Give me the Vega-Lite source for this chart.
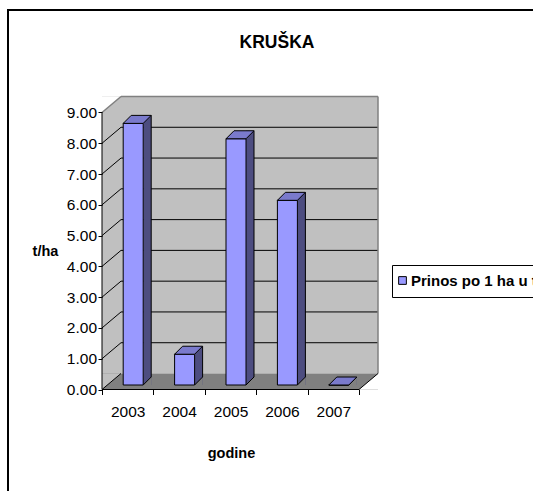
{
  "$schema": "https://vega.github.io/schema/vega-lite/v6.json",
  "width": 526,
  "height": 482,
  "autosize": {"type": "none"},
  "padding": {"left": 8, "top": 10, "right": -1, "bottom": -1},
  "background": "white",
  "datasets": {
    "bars": [
      {"year": "2003", "value": 8.5},
      {"year": "2004", "value": 1.0},
      {"year": "2005", "value": 8.0},
      {"year": "2006", "value": 6.0},
      {"year": "2007", "value": 0}
    ],
    "grid": [{"v": 1}, {"v": 2}, {"v": 3}, {"v": 4}, {"v": 5}, {"v": 6}, {"v": 7}, {"v": 8}],
    "one": [{}]
  },
  "title": {
    "text": "KRUŠKA",
    "font": "'Liberation Sans', Arial, sans-serif",
    "fontSize": 17.5,
    "fontWeight": "bold",
    "color": "black",
    "anchor": "middle",
    "offset": -50,
    "baseline": "middle",
    "dx": 6
  },
  "layer": [
    {
      "data": {"name": "one"},
      "mark": {"type": "rect", "fill": "#C0C0C0", "xOffset": 19, "x2Offset": 19, "yOffset": -16, "y2Offset": -16},
      "encoding": {
        "x": {"datum": "2003", "bandPosition": 0, "type": "nominal",
          "scale": {"type": "band", "domain": ["2003", "2004", "2005", "2006", "2007"], "paddingInner": 0, "paddingOuter": 0, "range": [94, 351]},
          "axis": {
            "orient": "bottom", "offset": -102.5, "domain": false, "grid": false, "zindex": 1,
            "tickBand": "extent", "tickSize": 5, "tickColor": "black", "tickWidth": 1,
            "labelAngle": 0, "labelPadding": 10, "labelColor": "black",
            "labelFont": "'Liberation Sans', Arial, sans-serif",
            "labelFontSize": 15.5,
            "title": "godine", "titleFontWeight": "bold", "titleColor": "black",
            "titleFont": "'Liberation Sans', Arial, sans-serif",
            "titleFontSize": 14.5, "titleX": 223, "titleY": 63.5, "titleBaseline": "middle", "titleAlign": "center"
          }
        },
        "x2": {"datum": "2007", "bandPosition": 1},
        "y": {"datum": 9, "type": "quantitative",
          "scale": {"domain": [-3.33, 12.33], "nice": false, "zero": false},
          "axis": {
            "orient": "left", "offset": -94, "values": [0, 1, 2, 3, 4, 5, 6, 7, 8, 9], "format": ".2f",
            "domain": false, "grid": false, "zindex": 1, "tickSize": 4, "tickColor": "black", "tickWidth": 1,
            "labelPadding": 1.5, "labelColor": "black",
            "labelFont": "'Liberation Sans', Arial, sans-serif",
            "labelFontSize": 15.5,
            "title": "t/ha", "titleAngle": 0, "titleFontWeight": "bold", "titleColor": "black",
            "titleFont": "'Liberation Sans', Arial, sans-serif",
            "titleFontSize": 14.5, "titleX": -57, "titleY": 241, "titleBaseline": "middle", "titleAlign": "center"
          }
        },
        "y2": {"datum": 0}
      }
    },
    {
      "data": {"name": "one"},
      "mark": {"type": "rect", "fill": "#C0C0C0", "x2Offset": 19, "yOffset": -16},
      "encoding": {
        "x": {"datum": "2003", "bandPosition": 0},
        "x2": {"datum": "2003", "bandPosition": 0},
        "y": {"datum": 9},
        "y2": {"datum": 0}
      }
    },
    {
      "data": {"name": "one"},
      "mark": {"type": "point", "shape": "M0,0 L0,-16 L19,-16 Z", "size": 4, "filled": true, "fill": "white", "opacity": 1, "strokeWidth": 0},
      "encoding": {
        "x": {"datum": "2003", "bandPosition": 0},
        "y": {"datum": 9}
      }
    },
    {
      "data": {"name": "one"},
      "mark": {"type": "rect", "fill": "#808080", "x2Offset": 19, "y2Offset": -16},
      "encoding": {
        "x": {"datum": "2003", "bandPosition": 0},
        "x2": {"datum": "2007", "bandPosition": 1},
        "y": {"datum": 0},
        "y2": {"datum": 0}
      }
    },
    {
      "data": {"name": "one"},
      "mark": {"type": "point", "shape": "M0,0 L0,-16 L19,-16 Z", "size": 4, "filled": true, "fill": "#C0C0C0", "opacity": 1, "strokeWidth": 0},
      "encoding": {
        "x": {"datum": "2003", "bandPosition": 0},
        "y": {"datum": 0}
      }
    },
    {
      "data": {"name": "one"},
      "mark": {"type": "point", "shape": "M0,0 L19,0 L19,-16 Z", "size": 4, "filled": true, "fill": "white", "opacity": 1, "strokeWidth": 0},
      "encoding": {
        "x": {"datum": "2007", "bandPosition": 1},
        "y": {"datum": 0}
      }
    },
    {
      "data": {"name": "grid"},
      "mark": {"type": "rule", "color": "black", "strokeWidth": 1, "xOffset": 19, "x2Offset": 19, "yOffset": -16},
      "encoding": {
        "x": {"datum": "2003", "bandPosition": 0},
        "x2": {"datum": "2007", "bandPosition": 1},
        "y": {"field": "v", "type": "quantitative"}
      }
    },
    {
      "data": {"name": "grid"},
      "mark": {"type": "rule", "color": "black", "strokeWidth": 1, "x2Offset": 19, "y2Offset": -16},
      "encoding": {
        "x": {"datum": "2003", "bandPosition": 0},
        "x2": {"datum": "2003", "bandPosition": 0},
        "y": {"field": "v", "type": "quantitative"},
        "y2": {"field": "v"}
      }
    },
    {
      "data": {"name": "one"},
      "mark": {"type": "rule", "color": "#808080", "strokeWidth": 1.5, "xOffset": 19, "x2Offset": 19, "yOffset": -16},
      "encoding": {
        "x": {"datum": "2003", "bandPosition": 0},
        "x2": {"datum": "2007", "bandPosition": 1},
        "y": {"datum": 9}
      }
    },
    {
      "data": {"name": "one"},
      "mark": {"type": "rule", "color": "#808080", "strokeWidth": 1.5, "x2Offset": 19, "y2Offset": -16},
      "encoding": {
        "x": {"datum": "2003", "bandPosition": 0},
        "x2": {"datum": "2003", "bandPosition": 0},
        "y": {"datum": 9},
        "y2": {"datum": 9}
      }
    },
    {
      "data": {"name": "one"},
      "mark": {"type": "rule", "color": "#808080", "strokeWidth": 1.5, "xOffset": 19, "yOffset": -16, "y2Offset": -16},
      "encoding": {
        "x": {"datum": "2007", "bandPosition": 1},
        "y": {"datum": 9},
        "y2": {"datum": 0}
      }
    },
    {
      "data": {"name": "one"},
      "mark": {"type": "rule", "color": "black", "strokeWidth": 1},
      "encoding": {
        "x": {"datum": "2003", "bandPosition": 0},
        "y": {"datum": 0},
        "y2": {"datum": 9}
      }
    },
    {
      "data": {"name": "one"},
      "mark": {"type": "rule", "color": "black", "strokeWidth": 1},
      "encoding": {
        "x": {"datum": "2003", "bandPosition": 0},
        "x2": {"datum": "2007", "bandPosition": 1},
        "y": {"datum": 0}
      }
    },
    {
      "data": {"name": "one"},
      "mark": {"type": "rule", "color": "black", "strokeWidth": 1, "x2Offset": 19, "y2Offset": -16},
      "encoding": {
        "x": {"datum": "2003", "bandPosition": 0},
        "x2": {"datum": "2003", "bandPosition": 0},
        "y": {"datum": 0},
        "y2": {"datum": 0}
      }
    },
    {
      "data": {"name": "one"},
      "mark": {"type": "rule", "color": "black", "strokeWidth": 1, "x2Offset": 19, "y2Offset": -16},
      "encoding": {
        "x": {"datum": "2007", "bandPosition": 1},
        "x2": {"datum": "2007", "bandPosition": 1},
        "y": {"datum": 0},
        "y2": {"datum": 0}
      }
    },
    {
      "data": {"name": "bars"},
      "mark": {"type": "bar", "fill": "#4D4D80", "width": 8, "xOffset": 19.5, "yOffset": -12.5, "y2Offset": -4.5},
      "encoding": {
        "x": {"field": "year", "type": "nominal"},
        "y": {"field": "value", "type": "quantitative"},
        "y2": {"datum": 0}
      }
    },
    {
      "data": {"name": "bars"},
      "mark": {"type": "point", "shape": "M15.5,-4.5 L23.5,-4.5 L23.5,-12.5 Z", "size": 4, "filled": true, "fill": "#808080", "opacity": 1, "strokeWidth": 0},
      "encoding": {
        "x": {"field": "year", "type": "nominal", "bandPosition": 0.5},
        "y": {"datum": 0}
      }
    },
    {
      "data": {"name": "bars"},
      "mark": {"type": "rule", "color": "black", "strokeWidth": 1, "xOffset": 23.5, "yOffset": -12.5, "y2Offset": -12.5},
      "encoding": {
        "x": {"field": "year", "type": "nominal", "bandPosition": 0.5},
        "y": {"field": "value", "type": "quantitative"},
        "y2": {"datum": 0}
      }
    },
    {
      "data": {"name": "bars"},
      "mark": {"type": "rule", "color": "black", "strokeWidth": 1, "xOffset": 15.5, "x2Offset": 23.5, "yOffset": -4.5, "y2Offset": -12.5},
      "encoding": {
        "x": {"field": "year", "type": "nominal", "bandPosition": 0.5},
        "x2": {"field": "year", "bandPosition": 0.5},
        "y": {"datum": 0},
        "y2": {"datum": 0}
      }
    },
    {
      "data": {"name": "bars"},
      "mark": {"type": "bar", "width": 20, "xOffset": 5.5, "yOffset": -4.5, "y2Offset": -4.5, "stroke": "black", "strokeWidth": 1},
      "encoding": {
        "x": {"field": "year", "type": "nominal"},
        "y": {"field": "value", "type": "quantitative"},
        "y2": {"datum": 0},
        "color": {
          "datum": "Prinos po 1 ha u t/ha",
          "scale": {"domain": ["Prinos po 1 ha u t/ha"], "range": ["#9999FF"]},
          "legend": {
            "orient": "none", "legendX": 384, "legendY": 255, "title": null,
            "strokeColor": "black", "fillColor": "white", "padding": 8,
            "symbolType": "square", "symbolSize": 60, "symbolStrokeColor": "black", "symbolStrokeWidth": 1,
            "symbolOffset": -5,
            "labelFont": "'Liberation Sans', Arial, sans-serif",
            "labelFontSize": 15, "labelFontWeight": "bold", "labelColor": "black", "labelLimit": 0, "labelOffset": 1
          }
        }
      }
    },
    {
      "data": {"name": "bars"},
      "mark": {"type": "point", "shape": "M-10,0 L10,0 L18,-8 L-2,-8 Z", "size": 4, "filled": true, "fill": "#7A7ACC", "stroke": "black", "strokeWidth": 1, "opacity": 1, "xOffset": 5.5, "yOffset": -4.5},
      "encoding": {
        "x": {"field": "year", "type": "nominal", "bandPosition": 0.5},
        "y": {"field": "value", "type": "quantitative"}
      }
    }
  ],
  "config": {
    "view": {"stroke": "black", "strokeWidth": 2},
    "font": "'Liberation Sans', Arial, sans-serif"
  }
}
